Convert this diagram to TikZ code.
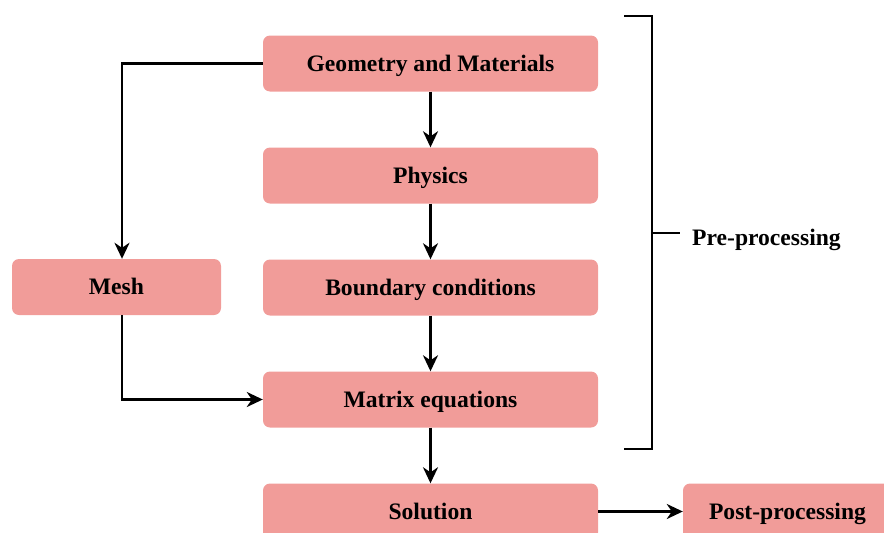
\documentclass[tikz,border=0pt]{standalone}
\usepackage{fontspec}
\setmainfont{Liberation Serif}
\usetikzlibrary{arrows.meta}
\definecolor{boxPink}{RGB}{241, 156, 153}

\tikzset{
  label/.style={inner sep=0pt, text height=15.6pt, text depth=0pt,
    font=\fontsize{23.6}{28}\selectfont\bfseries},
  stage/.style={label, fill=boxPink, rounded corners=7pt, minimum width=335pt,
    minimum height=56pt},
  sidestage/.style={stage, minimum width=209pt},
  flow/.style={line width=2.4pt, -{Stealth[length=16pt,width=15pt,inset=5pt]}},
  brace/.style={line width=2.4pt},
}

\begin{document}
\begin{tikzpicture}[x=1pt,y=-1pt]
  \useasboundingbox (0,0) rectangle (884,533);
  \clip (0,0) rectangle (884,533);

  \node[stage] (geom) at (430.5,63.5) {Geometry and Materials};
  \node[stage] (phys) at (430.5,175.5) {Physics};
  \node[stage] (bc) at (430.5,287.5) {Boundary conditions};
  \node[stage] (matrix) at (430.5,399.5) {Matrix equations};
  \node[stage] (sol) at (430.5,511.5) {Solution};
  \node[sidestage] (mesh) at (116.5,287) {Mesh};
  \node[sidestage] (post) at (787.5,511.5) {Post-processing};

  \draw[flow] (geom) -- (phys);
  \draw[flow] (phys) -- (bc);
  \draw[flow] (bc) -- (matrix);
  \draw[flow] (matrix) -- (sol);
  \draw[flow] (sol.east) -- (post.west);
  \draw[flow] (geom.west) -| ([xshift=5.5pt]mesh.north);
  \draw[flow] ([xshift=5.5pt]mesh.south) |- (matrix.west);

  % bracket round the pre-processing steps
  \coordinate (tick) at (680,233);
  \draw[brace] (624,16) -- (652,16) -- (652,449) -- (624,449);
  \draw[brace] (652,233) -- (tick);
  \node[label, anchor=west] (pre) at ([xshift=12pt,yshift=-4.5pt]tick) {Pre-processing};
\end{tikzpicture}
\end{document}
